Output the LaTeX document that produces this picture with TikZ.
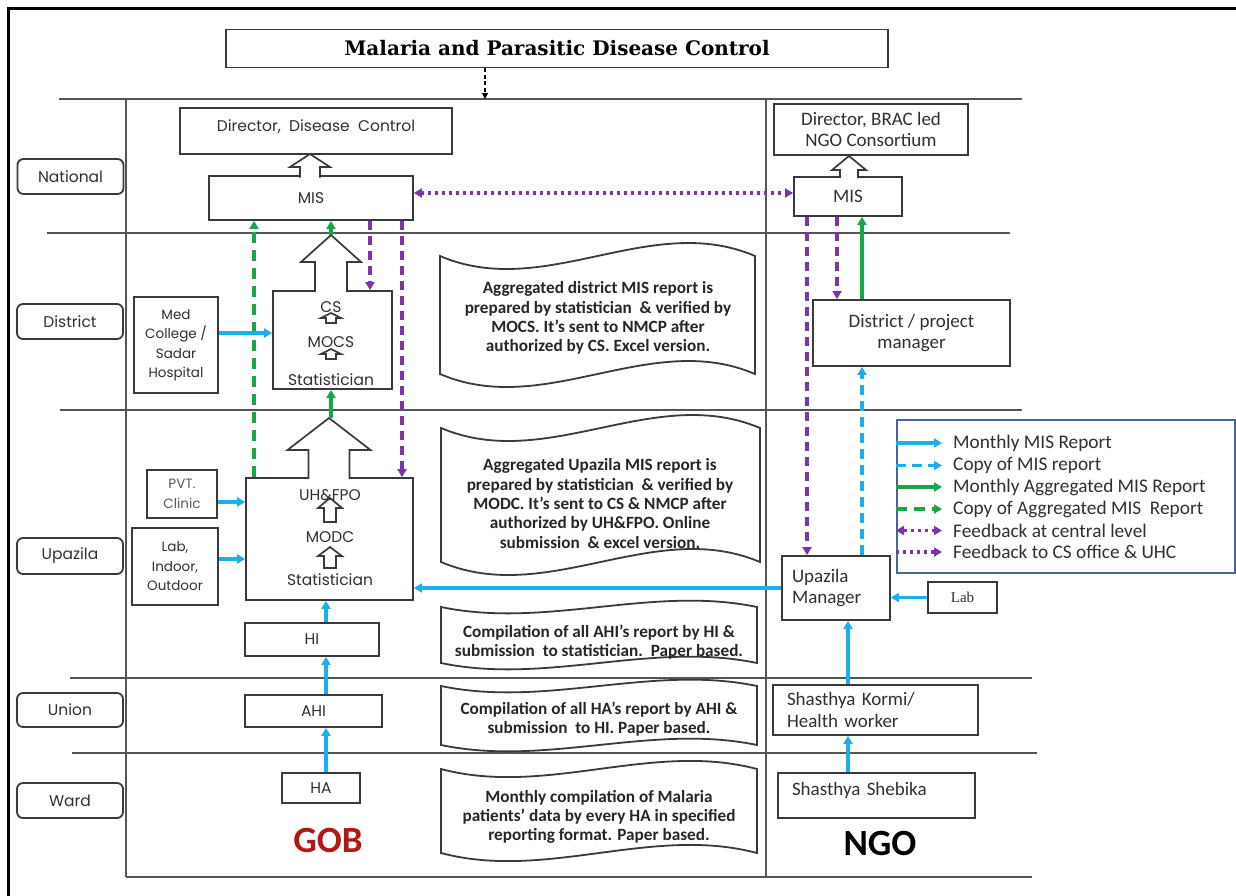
\documentclass[tikz,border=0pt]{standalone}
\usepackage{fontspec}
\setmainfont{Carlito}
\newfontfamily\gothicfam{Poppins}
\newfontfamily\titlefam{DejaVu Serif}
\newfontfamily\seriffam{Liberation Serif}
\usetikzlibrary{arrows.meta}

\definecolor{mblue}{HTML}{1AB0EE}
\definecolor{mgreen}{HTML}{14A84A}
\definecolor{mpurple}{HTML}{7A35A8}
\definecolor{mred}{HTML}{B01818}
\definecolor{edge}{HTML}{3A3A3A}
\definecolor{gridc}{HTML}{555555}
\definecolor{txt}{HTML}{303030}
\definecolor{legendblue}{HTML}{45679C}

\newcommand\lvlfont{\gothicfam\fontsize{15.5}{18}\selectfont}
\newcommand\boxfont{\gothicfam\fontsize{15.5}{18}\selectfont}
\newcommand\smallboxfont{\gothicfam\fontsize{13.5}{19.5}\selectfont}
\newcommand\ngofont{\fontsize{19}{21.5}\selectfont}
\newcommand\docfont{\bfseries\fontsize{17.2}{19.3}\selectfont}
\newcommand\legfont{\fontsize{19.3}{21}\selectfont}

% wavy "tape" outline: left, right, top, bottom, bend
\newcommand\wavedoc[5]{%
  \draw[docline] (#1,#3) .. controls ({#1+(#2-#1)/3},{#3+#5}) and ({#1+2*(#2-#1)/3},{#3-#5}) .. (#2,#3)
    -- (#2,#4) .. controls ({#1+2*(#2-#1)/3},{#4-#5}) and ({#1+(#2-#1)/3},{#4+#5}) .. (#1,#4) -- cycle;}
% hollow block arrow merged into the box below it: x, tip, head base, foot, head half width, shaft half width
\newcommand\bigup[6]{%
  \draw[hollow] ({#1-#6},#4) -- ({#1-#6},#3) -- ({#1-#5},#3) -- (#1,#2) -- ({#1+#5},#3) -- ({#1+#6},#3) -- ({#1+#6},#4);}
% small closed hollow arrow
\newcommand\smallup[6]{%
  \draw[hollow] ({#1-#6},#4) -- ({#1-#6},#3) -- ({#1-#5},#3) -- (#1,#2) -- ({#1+#5},#3) -- ({#1+#6},#3) -- ({#1+#6},#4) -- cycle;}

\begin{document}
\begin{tikzpicture}[x=1pt,y=-1pt,
  every node/.style={inner sep=1pt},
  struct/.style={draw=gridc,line width=1.6pt},
  box/.style={draw=edge,line width=1.8pt,fill=white,align=center,font=\boxfont,text=txt},
  lvl/.style={box,rounded corners=6pt,minimum width=106pt,minimum height=35pt,font=\lvlfont},
  ngobox/.style={draw=edge,line width=1.8pt,fill=white,font=\ngofont,text=txt},
  docline/.style={draw=edge,line width=1.8pt,fill=white},
  doctext/.style={align=center,font=\docfont,text=black!85},
  hollow/.style={draw=edge,fill=white,line width=1.7pt,line join=miter},
  tip/.style={-{Triangle[length=8pt,width=9pt]}},
  flowb/.style={tip,draw=mblue,line width=3.2pt},
  flowbd/.style={flowb,dash pattern=on 10pt off 6pt},
  flowg/.style={tip,draw=mgreen,line width=3.2pt},
  flowgd/.style={flowg,dash pattern=on 11pt off 7pt},
  fbdash/.style={tip,draw=mpurple,line width=3.2pt,dash pattern=on 9pt off 6pt},
  fbdot/.style={tip,draw=mpurple,line width=3.2pt,dash pattern=on 3pt off 4pt},
  legtext/.style={anchor=west,font=\legfont,text=txt,inner sep=0pt}
]
\useasboundingbox (0,0) rectangle (1236,895);

% outer frame
\draw[line width=2.2pt] (8.5,905) -- (8.5,8.5) -- (1245,8.5);

% level grid
\draw[struct] (59,99) -- (1022,99);
\draw[struct] (47,233) -- (1010,233);
\draw[struct] (60,410) -- (1022,410);
\draw[struct] (70,678) -- (1032,678);
\draw[struct] (72,753) -- (1037,753);
\draw[struct] (126,877) -- (1032,877);
\draw[struct] (126,99) -- (126,877);
\draw[struct] (766,99) -- (766,877);

% title
\node[draw=edge,line width=1.7pt,minimum width=662pt,minimum height=38pt,
      font=\titlefam\bfseries\fontsize{20}{22}\selectfont] (title) at (557,48.5)
      {Malaria and Parasitic Disease Control};
\coordinate (tarr) at (485,99);
\draw[line width=1.1pt,dash pattern=on 4pt off 2.5pt,-{Triangle[length=6pt,width=6pt]}] (title.south -| tarr) -- (tarr);

% level labels
\node[lvl] (lnat) at (70.5,176.5) {National};
\node[lvl] (ldis) at (70,321.5) {District};
\node[lvl,minimum height=36pt] (lupz) at (70,556) {Upazila};
\node[lvl,minimum height=34pt] (luni) at (70,710) {Union};
\node[lvl] (lwar) at (70,800.5) {Ward};

% GOB chain
\node[box,minimum width=272pt,minimum height=46pt,text depth=10pt] (dir) at (316,131) {Director,\ \ Disease\ \ Control};
\node[box,minimum width=204pt,minimum height=44pt] (mis) at (311,198) {MIS};
\node[box,minimum width=119pt,minimum height=98pt] (cs) at (332.5,340) {};
\node[box,minimum width=167pt,minimum height=122pt] (upz) at (329.5,539) {};
\node[box,minimum width=134pt,minimum height=33pt] (hi) at (312,639.5) {HI};
\node[box,minimum width=137pt,minimum height=32pt] (ahi) at (313.5,711) {AHI};
\node[box,minimum width=78pt,minimum height=30pt] (ha) at (321,788) {HA};

\bigup{310}{154}{167}{177.5}{20}{10}
\bigup{331}{235}{262}{292}{30}{16}
\bigup{329}{418}{450}{479}{41.5}{20.5}

\smallup{331}{313}{318}{323}{10}{5}
\smallup{331}{349}{354}{359}{10}{5}
\smallup{330}{498}{508}{522}{12}{6}
\smallup{330}{547}{556}{568}{12}{6}

\node[font=\boxfont,text=txt] (tcs) at (331,307) {CS};
\node[font=\boxfont,text=txt] (tmocs) at (331,342) {MOCS};
\node[font=\boxfont,text=txt] (tstat1) at (331,380) {Statistician};
\node[font=\boxfont,text=txt] (tuh) at (330,495) {UH\&FPO};
\node[font=\boxfont,text=txt] (tmodc) at (330,537) {MODC};
\node[font=\boxfont,text=txt] (tstat2) at (330,580) {Statistician};

% side sources
\node[box,font=\smallboxfont,minimum width=84pt,minimum height=96pt] (med) at (176,345) {Med\\College /\\Sadar\\Hospital};
\node[box,font=\smallboxfont,minimum width=70pt,minimum height=48pt,text=txt!80] (pvt) at (182,494) {PVT.\\Clinic};
\node[box,font=\smallboxfont,line width=2.6pt,minimum width=86pt,minimum height=77pt] (lab) at (175,566.5) {Lab,\\Indoor,\\Outdoor};

% NGO chain
\node[ngobox,minimum width=194pt,minimum height=51pt,align=center] (dirngo) at (871,129.5) {Director, BRAC led\\NGO Consortium};
\node[ngobox,minimum width=108pt,minimum height=39pt] (misngo) at (848,196.5) {MIS};
\bigup{849}{156}{170}{178}{17}{9}
\node[ngobox,minimum width=197pt,minimum height=66pt,align=center] (dpm) at (911.5,333) {District / project\\manager};
\node[ngobox,minimum width=108pt,minimum height=64pt,text width=88pt,align=left] (um) at (836,588) {Upazila\\Manager};
\node[ngobox,minimum width=69pt,minimum height=31pt,font=\seriffam\fontsize{15}{17}\selectfont] (labn) at (962.5,597.5) {Lab};
\node[ngobox,minimum width=205pt,minimum height=50pt,text width=177pt,align=left] (sk) at (875.5,710) {Shasthya Kormi/\\Health worker};
\node[ngobox,minimum width=197pt,minimum height=45pt,text width=169pt,align=left,text depth=14pt] (ss) at (876.5,795.5) {Shasthya Shebika};

% process notes
\wavedoc{440}{755}{256}{374}{45}
\node[doctext] (doc1) at (598,318) {Aggregated district MIS report is\\prepared by statistician\ \ \& verified by\\MOCS. It’s sent to NMCP after\\authorized by CS. Excel version.};
\wavedoc{441}{760}{428}{562}{45}
\node[doctext] (doc2) at (600,503.5) {Aggregated Upazila MIS report is\\prepared by statistician\ \ \& verified by\\MODC. It’s sent to CS \& NMCP after\\authorized by UH\&FPO. Online\\submission\ \ \& excel version.};
\wavedoc{441}{757}{607}{663}{22}
\node[doctext] (doc3) at (599,642) {Compilation of all AHI’s report by HI \&\\submission\ \ to statistician.\ \ Paper based.};
\wavedoc{441}{757}{686}{745}{22}
\node[doctext] (doc4) at (599,719) {Compilation of all HA’s report by AHI \&\\submission\ \ to HI. Paper based.};
\wavedoc{441}{757}{769}{853}{28}
\node[doctext] (doc5) at (599,817) {Monthly compilation of Malaria\\patients’ data by every HA in specified\\reporting format. Paper based.};

% side titles
\node[font=\bfseries\fontsize{37}{40}\selectfont,text=mred] (gob) at (328,840) {GOB};
\node[font=\bfseries\fontsize{37}{40}\selectfont,text=black] (ngo) at (880,843) {NGO};

% columns for vertical connectors
\coordinate (cG1) at (254,0);
\coordinate (cG2) at (331,0);
\coordinate (cP1) at (370,0);
\coordinate (cP2) at (402,0);
\coordinate (cB) at (326,0);
\coordinate (cN1) at (807,0);
\coordinate (cN2) at (837,0);
\coordinate (cN3) at (862,0);
\coordinate (cN4) at (848,0);
\coordinate (fb) at (600,193);
\coordinate (csTip) at (331,235);
\coordinate (upTip) at (331,418);

% GOB reporting flow
\draw[flowgd] (upz.north -| cG1) -- (mis.south -| cG1);
\draw[flowg] (csTip) -- (mis.south -| csTip);
\draw[flowg] (upTip) -- (cs.south -| upTip);
\draw[fbdash] (mis.south -| cP1) -- (cs.north -| cP1);
\draw[fbdash] (mis.south -| cP2) -- (upz.north -| cP2);
\draw[flowb] ([yshift=12pt]med.east) -- ([yshift=12pt]med.east -| cs.west);
\draw[flowb] ([yshift=-8pt]pvt.east) -- ([yshift=-8pt]pvt.east -| upz.west);
\draw[flowb] ([yshift=7.5pt]lab.east) -- ([yshift=7.5pt]lab.east -| upz.west);
\draw[flowb] (hi.north -| cB) -- (upz.south -| cB);
\draw[flowb] (ahi.north -| cB) -- (hi.south -| cB);
\draw[flowb] (ha.north -| cB) -- (ahi.south -| cB);

% NGO reporting flow
\draw[flowb] (um.west) -- (um.west -| upz.east);
\draw[flowb] (labn.west) -- (labn.west -| um.east);
\draw[flowb] (sk.north -| cN4) -- (um.south -| cN4);
\draw[flowb] (ss.north -| cN4) -- (sk.south -| cN4);
\draw[flowbd] (um.north -| cN3) -- (dpm.south -| cN3);
\draw[flowg] (dpm.north -| cN3) -- (misngo.south -| cN3);
\draw[fbdash] (misngo.south -| cN2) -- (dpm.north -| cN2);
\draw[fbdash] (misngo.south -| cN1) -- (um.north -| cN1);
\draw[fbdot,{Triangle[length=8pt,width=9pt]}-{Triangle[length=8pt,width=9pt]}] (mis.east |- fb) -- (misngo.west |- fb);

% legend
\node[draw=legendblue,line width=2pt,fill=white,minimum width=338pt,minimum height=153pt] (leg) at (1066,496.5) {};
\node[legtext] (k1) at (953,443) {Monthly MIS Report};
\node[legtext] (k2) at (953,465.5) {Copy of MIS report};
\node[legtext] (k3) at (953,487) {Monthly Aggregated MIS Report};
\node[legtext] (k4) at (953,509) {Copy of Aggregated MIS\ \ Report};
\node[legtext] (k5) at (953,530.5) {Feedback at central level};
\node[legtext] (k6) at (953,552) {Feedback to CS office \& UHC};
\draw[flowb] (leg.west |- k1.west) -- ([xshift=-11pt]k1.west);
\draw[flowbd] (leg.west |- k2.west) -- ([xshift=-11pt]k2.west);
\draw[flowg] (leg.west |- k3.west) -- ([xshift=-11pt]k3.west);
\draw[flowgd] (leg.west |- k4.west) -- ([xshift=-11pt]k4.west);
\draw[fbdot,{Triangle[length=8pt,width=9pt]}-{Triangle[length=8pt,width=9pt]}] (leg.west |- k5.west) -- ([xshift=-11pt]k5.west);
\draw[fbdot] (leg.west |- k6.west) -- ([xshift=-11pt]k6.west);
\end{tikzpicture}
\end{document}
